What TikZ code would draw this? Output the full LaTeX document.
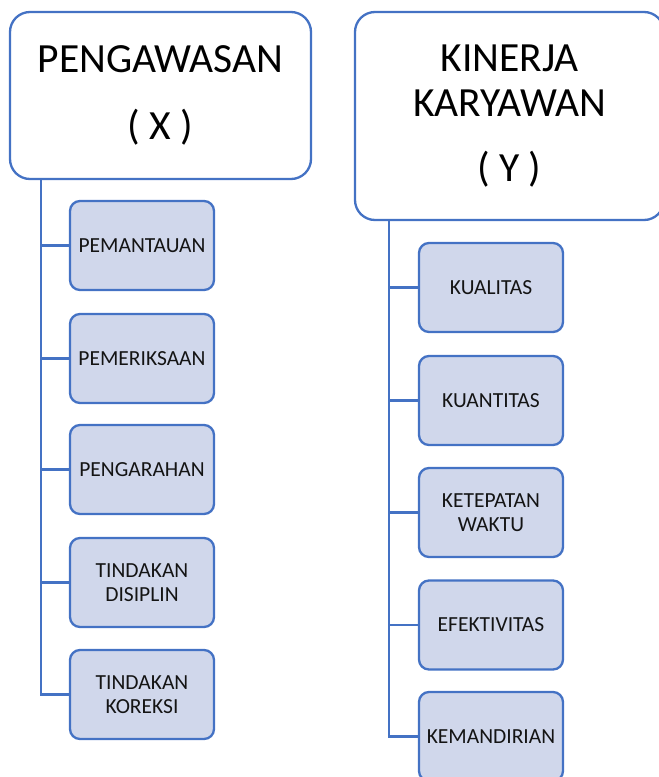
\documentclass[tikz,border=0pt]{standalone}
\usepackage{fontspec}
\setmainfont{Carlito}
\definecolor{bord}{RGB}{68,114,196}
\definecolor{boxfill}{RGB}{208,215,235}
\definecolor{txt}{RGB}{20,20,20}
\begin{document}
\begin{tikzpicture}[x=1pt,y=-1pt,
  hdr/.style={draw=bord,line width=2.3pt,fill=white,rounded corners=20pt,
    align=center,font=\fontsize{41.5}{45}\selectfont,text=black,inner sep=0pt},
  item/.style={draw=bord,line width=2.3pt,fill=boxfill,rounded corners=10pt,
    minimum width=144pt,minimum height=89pt,inner sep=0pt,align=center,
    font=\fontsize{21.5}{23.5}\selectfont,text=txt},
  conn/.style={draw=bord,line width=2.3pt}]
\useasboundingbox (0,0) rectangle (659,777);
% headers
\node[hdr,minimum width=301pt,minimum height=167pt] (hx) at (160.5,95.5)
  {PENGAWASAN\\[22pt]( X )};
\node[hdr,minimum width=309pt,minimum height=208pt] (hy) at (509.5,116)
  {KINERJA\\KARYAWAN\\[20pt]( Y )};
% left items
\node[item] (x1) at (142,245.5) {PEMANTAUAN};
\node[item] (x2) at (142,358.5) {PEMERIKSAAN};
\node[item] (x3) at (142,469.5) {PENGARAHAN};
\node[item] (x4) at (142,582.5) {TINDAKAN\\DISIPLIN};
\node[item] (x5) at (142,694.5) {TINDAKAN\\KOREKSI};
% right items
\node[item] (y1) at (491,287.5) {KUALITAS};
\node[item] (y2) at (491,400.5) {KUANTITAS};
\node[item] (y3) at (491,512.5) {KETEPATAN\\WAKTU};
\node[item] (y4) at (491,625) {EFEKTIVITAS};
\node[item] (y5) at (491,736.5) {KEMANDIRIAN};
% trunks
\coordinate (tx) at (41,179);
\coordinate (ty) at (389,220);
\foreach \i in {1,...,5} {
  \draw[conn] (tx) |- (x\i.west);
  \draw[conn] (ty) |- (y\i.west);
}
\end{tikzpicture}
\end{document}
